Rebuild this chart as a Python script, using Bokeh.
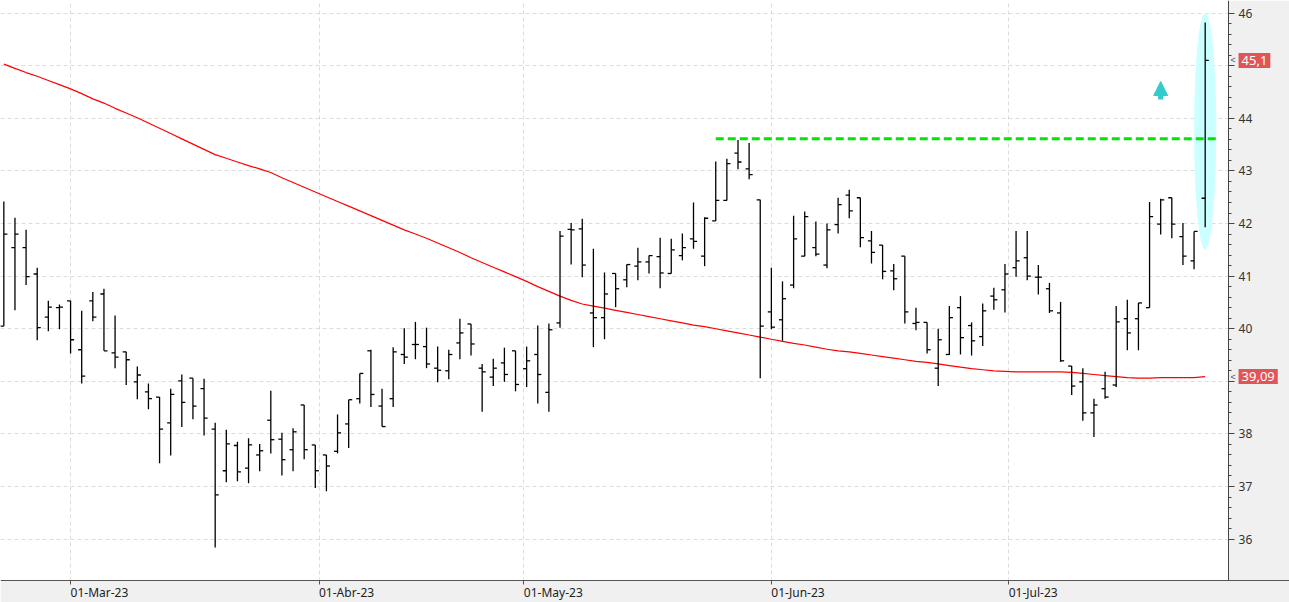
import pandas as pd
from bokeh.plotting import figure
from bokeh.models import (FixedTicker, Label, Arrow, NormalHead, BoxAnnotation)
from bokeh.embed import file_html
from bokeh.resources import INLINE

# ---------------- data ----------------
holidays = ["2023-04-07", "2023-04-10", "2023-05-01"]
dates = [d for d in pd.bdate_range("2023-02-21", "2023-07-26")
         if d.strftime("%Y-%m-%d") not in holidays]

opens = [40.05, 41.54, 41.54, 41.04, 40.22, 40.40, 40.53, 39.60, 40.53, 40.66,
         39.54, 39.56, 38.99, 38.80, 38.70, 38.21, 39.01, 39.06, 38.86, 38.09,
         37.30, 37.78, 37.35, 37.60, 38.26, 37.90, 37.70, 38.55, 37.79, 37.60,
         37.67, 38.19, 38.67, 39.58, 38.53, 38.67, 39.51, 39.70, 39.66, 39.25,
         39.20, 39.73, 40.09, 39.25, 39.08, 39.35, 39.58, 39.24, 39.51, 38.79,
         40.11, 41.89, 41.90, 40.30, 40.21, 41.05, 40.93, 41.19, 41.27, 41.37,
         41.05, 41.39, 41.71, 41.38, 42.05, 42.44, 43.34, 43.04, 42.45, 40.32,
         40.17, 40.83, 41.38, 41.54, 41.21, 41.98, 42.54, 42.49, 41.67, 41.59,
         41.10, 41.38, 40.10, 40.12, 39.25, 39.51, 40.40, 40.06, 39.85, 40.62,
         40.74, 41.16, 41.35, 40.98, 40.76, 40.30, 39.29, 38.99, 38.40, 38.86,
         38.93, 40.19, 40.19, 40.40, 41.99, 42.49, 41.75, 41.29, 42.48]
highs = [42.42, 42.11, 41.88, 41.16, 40.53, 40.46, 40.53, 40.34, 40.70, 40.76,
         40.25, 39.56, 39.28, 38.96, 38.70, 38.86, 39.13, 39.06, 39.05, 38.21,
         38.08, 37.85, 37.92, 37.81, 38.82, 38.02, 38.11, 38.55, 37.79, 37.60,
         38.37, 38.65, 39.15, 39.60, 38.86, 39.65, 40.01, 40.13, 40.02, 39.66,
         39.60, 40.19, 40.09, 39.33, 39.43, 39.64, 39.58, 39.66, 40.06, 40.10,
         41.86, 42.01, 42.09, 41.52, 41.07, 41.05, 41.22, 41.54, 41.39, 41.73,
         41.71, 41.81, 42.40, 42.12, 43.18, 43.23, 43.59, 43.53, 42.45, 41.16,
         40.90, 42.15, 42.23, 42.04, 42.00, 42.49, 42.64, 42.49, 41.86, 41.59,
         41.23, 41.38, 40.40, 40.12, 40.00, 40.43, 40.62, 40.12, 40.48, 40.78,
         41.23, 41.86, 41.86, 41.21, 40.87, 40.51, 39.29, 39.25, 38.67, 39.18,
         40.43, 40.55, 40.49, 42.41, 42.47, 42.49, 42.01, 41.85, 45.82]
lows = [40.05, 40.35, 40.83, 39.78, 39.95, 39.99, 39.53, 38.96, 40.14, 39.58,
        39.25, 38.93, 38.66, 38.47, 37.44, 37.59, 38.13, 38.28, 37.97, 35.84,
        37.08, 37.10, 37.06, 37.29, 37.63, 37.21, 37.29, 37.52, 36.97, 36.91,
        37.63, 37.73, 38.58, 38.51, 38.14, 38.51, 39.33, 39.42, 39.25, 38.98,
        39.04, 39.42, 39.49, 38.42, 38.91, 38.99, 38.81, 38.89, 38.58, 38.42,
        40.02, 41.22, 40.98, 39.65, 39.80, 40.41, 40.79, 40.92, 41.05, 40.77,
        41.05, 41.30, 41.52, 41.19, 42.05, 42.44, 43.03, 42.84, 39.06, 39.99,
        39.77, 40.77, 41.38, 41.38, 41.15, 41.81, 42.10, 41.55, 41.24, 40.94,
        40.73, 40.10, 39.97, 39.53, 38.91, 39.50, 39.51, 39.49, 39.67, 40.36,
        40.31, 40.99, 40.92, 40.65, 40.30, 39.37, 38.74, 38.25, 37.94, 38.67,
        38.89, 39.59, 39.59, 40.40, 41.79, 41.72, 41.21, 41.13, 41.93]
closes = [41.80, 41.80, 40.99, 40.02, 40.41, 40.41, 39.79, 39.10, 40.22, 39.58,
          39.46, 39.41, 39.12, 38.67, 38.09, 38.75, 38.60, 38.53, 38.30, 36.84,
          37.81, 37.28, 37.79, 37.68, 37.89, 37.51, 38.04, 37.70, 37.30, 37.39,
          38.02, 38.65, 39.15, 38.75, 38.14, 39.56, 39.46, 39.70, 39.33, 39.21,
          39.51, 39.92, 39.71, 39.18, 39.25, 39.13, 38.94, 39.39, 39.13, 39.98,
          41.76, 41.88, 41.21, 40.21, 40.66, 40.76, 41.22, 41.27, 41.39, 41.06,
          41.50, 41.54, 41.66, 42.10, 42.44, 43.14, 43.17, 42.93, 40.05, 40.03,
          40.57, 41.71, 42.13, 41.42, 41.88, 42.36, 42.24, 41.73, 41.45, 41.09,
          40.95, 40.32, 40.12, 39.60, 39.79, 40.21, 39.83, 39.77, 40.34, 40.55,
          41.04, 41.29, 41.00, 40.98, 40.34, 39.39, 38.91, 38.40, 38.55, 38.70,
          40.13, 39.92, 40.49, 42.13, 42.45, 41.99, 41.38, 41.85, 45.10]
ma200 = [45.03, 44.95, 44.87, 44.80, 44.72, 44.64, 44.56, 44.47, 44.37, 44.29,
         44.19, 44.10, 44.01, 43.91, 43.81, 43.71, 43.61, 43.51, 43.41, 43.31,
         43.24, 43.17, 43.10, 43.04, 42.97, 42.87, 42.78, 42.69, 42.60, 42.51,
         42.42, 42.33, 42.24, 42.15, 42.06, 41.97, 41.88, 41.80, 41.72, 41.63,
         41.54, 41.45, 41.35, 41.26, 41.17, 41.08, 40.99, 40.90, 40.80, 40.71,
         40.62, 40.54, 40.47, 40.43, 40.39, 40.35, 40.31, 40.27, 40.23, 40.19,
         40.15, 40.11, 40.07, 40.04, 40.00, 39.96, 39.92, 39.88, 39.84, 39.80,
         39.76, 39.72, 39.69, 39.65, 39.61, 39.58, 39.56, 39.53, 39.50, 39.47,
         39.44, 39.41, 39.38, 39.36, 39.33, 39.30, 39.27, 39.24, 39.22, 39.20,
         39.19, 39.18, 39.18, 39.18, 39.18, 39.18, 39.17, 39.15, 39.13, 39.11,
         39.09, 39.07, 39.06, 39.06, 39.07, 39.07, 39.07, 39.07, 39.09]

month_starts = ["2023-03-01", "2023-04-01", "2023-05-01", "2023-06-01", "2023-07-01"]
month_labels = ["01-Mar-23", "01-Abr-23", "01-May-23", "01-Jun-23", "01-Jul-23"]
y_ticks = [36, 37, 38, 39, 40, 41, 42, 43, 44, 45, 46]

resistance_level = 43.61
resistance_from = "2023-05-25"
last_close_label = "45,1"
ma_label = "39,09"
arrow_date = "2023-07-20"
arrow_low, arrow_high = 44.36, 44.70
highlight_low, highlight_high = 41.50, 46.02

# ---------------- helpers ----------------
idx = list(range(len(dates)))


def date_pos(s):
    d = pd.Timestamp(s)
    for i, t in enumerate(dates):
        if t == d:
            return float(i)
        if t > d:
            prev = dates[i - 1]
            return round(i - 1 + (d - prev).days / (t - prev).days, 3)
    return float(len(dates))


tick_pos = [date_pos(s) for s in month_starts]
last = len(dates) - 1
x_lo, x_hi, axis_at = -0.3, 115.58, 110.1        # price-area right edge = axis_at
y_hi, y_floor, y_lo = 46.24, 35.21, 34.795       # price-area bottom = y_floor

p = figure(width=1289, height=602, output_backend="svg", toolbar_location=None,
           x_range=(x_lo, x_hi), y_range=(y_lo, y_hi), y_axis_location="right",
           min_border_left=0, min_border_top=0, min_border_right=0, min_border_bottom=0)
p.background_fill_color = "white"
p.border_fill_color = "#f0f0f0"
p.outline_line_color = None

# grey panels behind the price and date scales
p.add_layout(BoxAnnotation(left=axis_at, fill_color="#f0f0f0", fill_alpha=1.0,
                           line_color=None, level="underlay"))
p.add_layout(BoxAnnotation(top=y_floor, fill_color="#f0f0f0", fill_alpha=1.0,
                           line_color=None, level="underlay"))

# price axis
yax = p.yaxis[0]
yax.fixed_location = axis_at
yax.bounds = (y_floor, y_hi)
yax.ticker = FixedTicker(ticks=y_ticks, minor_ticks=[36 + k * 0.2 for k in range(51)])
yax.major_label_overrides = {45: "", 39: ""}
yax.major_tick_out = 6
yax.major_tick_in = 0
yax.minor_tick_out = 3
yax.minor_tick_in = 0
yax.axis_line_color = "#444444"
yax.major_tick_line_color = "#444444"
yax.minor_tick_line_color = "#444444"
yax.major_label_text_font = "Noto Sans"
yax.major_label_text_font_size = "12px"
yax.major_label_text_color = "#333333"
yax.major_label_standoff = 4

# date axis
xax = p.xaxis[0]
xax.fixed_location = y_floor
xax.ticker = FixedTicker(ticks=tick_pos)
xax.major_label_overrides = {t: l for t, l in zip(tick_pos, month_labels)}
xax.major_label_orientation = -0.0001
xax.major_tick_out = 4
xax.major_tick_in = 0
xax.minor_tick_line_color = None
xax.axis_line_color = "#555555"
xax.major_tick_line_color = "#555555"
xax.major_label_text_font = "Noto Sans"
xax.major_label_text_font_size = "12px"
xax.major_label_text_color = "#222222"
xax.major_label_standoff = 8

p.xgrid.ticker = FixedTicker(ticks=tick_pos)
p.ygrid.ticker = FixedTicker(ticks=y_ticks)
for g in (p.xgrid[0], p.ygrid[0]):
    g.grid_line_color = "#dcdcdc"
    g.grid_line_dash = "4 3"
    g.grid_line_width = 1

# highlight ellipse around last bar
p.ellipse(x=[last], y=[(highlight_low + highlight_high) / 2], width=2.0,
          height=highlight_high - highlight_low, fill_color="#ccffff", line_color=None)

# moving average
p.line(idx, ma200, line_color="#ff0000", line_width=1.2)

# OHLC bars
p.segment(x0=idx, y0=lows, x1=idx, y1=highs, line_color="black", line_width=1.3)
p.segment(x0=[i - 0.32 for i in idx], y0=opens, x1=idx, y1=opens, line_color="black", line_width=1.3)
p.segment(x0=idx, y0=closes, x1=[i + 0.32 for i in idx], y1=closes, line_color="black", line_width=1.3)

# resistance line
rs = date_pos(resistance_from)
p.line([rs, last + 1], [resistance_level, resistance_level], line_color="#00e600",
       line_width=3, line_dash="8 4")

# arrow
ax = date_pos(arrow_date)
p.add_layout(Arrow(end=NormalHead(size=14, fill_color="#33cccc", line_color="#33cccc", line_width=1),
                   x_start=ax, y_start=arrow_low, x_end=ax, y_end=arrow_high,
                   line_color="#33cccc", line_width=5))

# price labels on the axis
for yv, txt in ((closes[-1], last_close_label), (ma200[-1], ma_label)):
    p.add_layout(Label(x=axis_at, y=yv, text=txt, x_offset=10, text_baseline="middle",
                       text_align="left", text_color="white", text_font="Noto Sans",
                       text_font_size="13px", background_fill_color="#e05555",
                       padding=3, level="overlay"))
    p.add_layout(Label(x=axis_at, y=yv, text="<", x_offset=2, text_baseline="middle",
                       text_align="left", text_color="#555555", text_font_size="9px",
                       level="overlay"))

open("out.html", "w").write(file_html(p, INLINE))
